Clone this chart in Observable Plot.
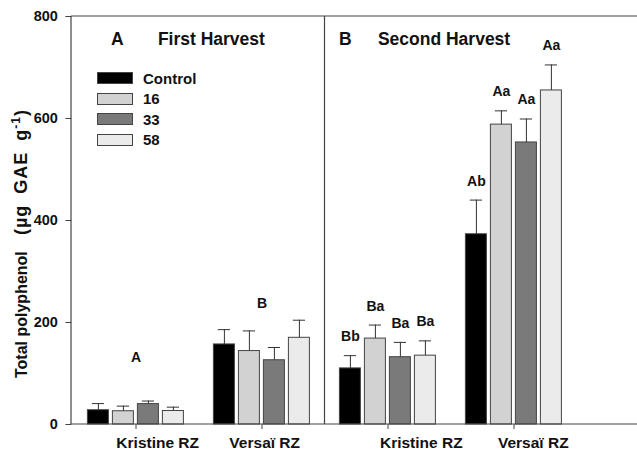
<!DOCTYPE html>
<html><head><meta charset="utf-8">
<script src="https://cdn.jsdelivr.net/npm/d3@7"></script>
<script src="https://cdn.jsdelivr.net/npm/@observablehq/plot@0.6"></script>
<style>
body{margin:0;background:#fff;font-family:"Liberation Sans",Arial,sans-serif;}
#wrap{position:relative;width:637px;height:451px;}
#wrap svg{display:block;}
.legend{position:absolute;left:97px;top:68px;font-weight:bold;font-size:15px;color:#111;}
.legend .row{display:flex;align-items:center;height:20.5px;}
.legend .sw{width:34px;height:10px;border:1px solid #444;margin-right:10px;box-sizing:content-box;}
</style></head><body><div id="wrap"></div>
<script>
// ---- data ----
const treatments = ["Control", "16", "33", "58"];
const colors = ["#000000", "#d2d2d2", "#7a7a7a", "#ebebeb"];
const harvests = ["First Harvest", "Second Harvest"];
const panelLetters = ["A", "B"];
const cultivars = ["Kristine RZ", "Versaï RZ"];
const yTicks = [0, 200, 400, 600, 800];

const firstKristine = [28, 26, 40, 26.5];
const firstKristineSE = [13, 10, 6, 7.5];
const firstVersai = [157, 144, 126, 170];
const firstVersaiSE = [29, 39.5, 25, 34.5];
const secondKristine = [110, 168.5, 132, 135];
const secondKristineSE = [25, 26.5, 29, 29];
const secondVersai = [373, 588, 553, 655];
const secondVersaiSE = [67, 27, 46, 50];

const firstGroupLetters = ["A", "B"];
const firstGroupLetterY = [131, 237];
const secondKristineLetters = ["Bb", "Ba", "Ba", "Ba"];
const secondVersaiLetters = ["Ab", "Aa", "Aa", "Aa"];

// ---- build tables ----
const groups = [];
harvests.forEach(h => cultivars.forEach(c => groups.push(h + "|" + c)));
const series = [
  [firstKristine, firstKristineSE, null],
  [firstVersai, firstVersaiSE, null],
  [secondKristine, secondKristineSE, secondKristineLetters],
  [secondVersai, secondVersaiSE, secondVersaiLetters]
];
const rows = [];
series.forEach(([m, se, lab], gi) => {
  treatments.forEach((t, i) => {
    rows.push({group: groups[gi], treatment: t, mean: m[i], top: m[i] + se[i], letter: lab ? lab[i] : null});
  });
});
const letterRows = rows.filter(d => d.letter);
const groupLetterRows = firstGroupLetters.map((l, i) => ({group: groups[i], letter: l, y: firstGroupLetterY[i]}));

const font = "'Liberation Sans', Arial, sans-serif";
const W = 637, H = 451, ML = 84.6, MR = 73.6, MT = 16, MB = 27;
// horizontal shift of each cultivar label from its tick (layout, as in the reference)
const labelShift = [21.7, 2.7, 33.3, 19.3];

const catLabelMarks = groups.map((gk, i) =>
  Plot.text([{group: gk, label: gk.split("|")[1]}], {
    fx: "group", text: "label", frameAnchor: "bottom", dy: 19, dx: labelShift[i],
    lineAnchor: "middle", fontSize: 15.5, fill: "#111"
  })
);

const plot = Plot.plot({
  width: W, height: H,
  marginLeft: ML, marginRight: MR, marginTop: MT, marginBottom: MB,
  style: {fontFamily: font, fontWeight: "bold", color: "#111", background: "transparent", overflow: "visible"},
  fx: {domain: groups, paddingInner: 0.2, paddingOuter: 0, label: null, axis: null},
  x: {domain: treatments, paddingInner: 0.17, paddingOuter: 0.085, axis: null},
  y: {domain: [0, 800], axis: null},
  color: {domain: treatments, range: colors},
  marks: [
    Plot.axisY({ticks: yTicks, tickSize: 6, tickPadding: 8, fontSize: 14.5, label: null, dx: -13.6, stroke: "#444"}),
    Plot.axisFx({anchor: "bottom", tickSize: 5, label: null, stroke: "#444", tickFormat: () => ""}),
    ...catLabelMarks,
    Plot.barY(rows, {fx: "group", x: "treatment", y: "mean", fill: "treatment", stroke: "#444", strokeWidth: 1}),
    Plot.ruleX(rows, {fx: "group", x: "treatment", y1: "mean", y2: "top", stroke: "#333", strokeWidth: 1}),
    Plot.tickY(rows, {fx: "group", x: "treatment", y: "top", stroke: "#333", strokeWidth: 1, insetLeft: 4.4, insetRight: 4.4}),
    Plot.text(letterRows, {fx: "group", x: "treatment", y: "top", text: "letter", dy: -19, lineAnchor: "middle", fontSize: 14, fill: "#111"}),
    Plot.text(groupLetterRows, {fx: "group", y: "y", text: "letter", lineAnchor: "middle", fontSize: 14, fill: "#111"}),
    Plot.text([{group: groups[0], t: panelLetters[0]}], {fx: "group", text: "t", frameAnchor: "top-left", dx: 25.4, dy: 23, lineAnchor: "middle", textAnchor: "start", fontSize: 17.5, fill: "#111"}),
    Plot.text([{group: groups[0], t: harvests[0]}], {fx: "group", text: "t", frameAnchor: "top-left", dx: 72.4, dy: 23, lineAnchor: "middle", textAnchor: "start", fontSize: 17.5, fill: "#111"}),
    Plot.text([{group: groups[2], t: panelLetters[1]}], {fx: "group", text: "t", frameAnchor: "top-left", dx: 1.4, dy: 23, lineAnchor: "middle", textAnchor: "start", fontSize: 17.5, fill: "#111"}),
    Plot.text([{group: groups[2], t: harvests[1]}], {fx: "group", text: "t", frameAnchor: "top-left", dx: 40.4, dy: 23, lineAnchor: "middle", textAnchor: "start", fontSize: 17.5, fill: "#111"})
  ]
});

// ---- frame lines from scales ----
const svg = d3.select(plot);
const ys = plot.scale("y"), fxs = plot.scale("fx");
const y0 = ys.apply(0), y1 = ys.apply(800);
const left = ML - 13.6;
const divider = (fxs.apply(groups[1]) + fxs.bandwidth + fxs.apply(groups[2])) / 2;
const g = svg.append("g").attr("stroke", "#444").attr("stroke-width", 1.2).attr("fill", "none");
g.append("line").attr("x1", left).attr("x2", W).attr("y1", y1).attr("y2", y1);
g.append("line").attr("x1", left).attr("x2", W).attr("y1", y0).attr("y2", y0);
g.append("line").attr("x1", left).attr("x2", left).attr("y1", y1).attr("y2", y0);
g.append("line").attr("x1", divider).attr("x2", divider).attr("y1", y1).attr("y2", y0);

// ---- y axis title ----
svg.append("text")
  .attr("transform", `translate(27,378) rotate(-90)`)
  .attr("text-anchor", "start").attr("font-size", 16).attr("font-weight", "bold")
  .attr("fill", "#111").attr("font-family", font)
  .text("Total polyphenol");
const t2 = svg.append("text")
  .attr("transform", `translate(27,235) rotate(-90)`)
  .attr("text-anchor", "start").attr("font-size", 18).attr("font-weight", "bold")
  .attr("fill", "#111").attr("font-family", font)
  .style("letter-spacing", "1px").style("word-spacing", "5px");
t2.append("tspan").text("(µg GAE g");
t2.append("tspan").attr("dy", -7).attr("font-size", 12).text("-1");
t2.append("tspan").attr("dy", 7).text(")");

const wrap = document.getElementById("wrap");
wrap.appendChild(plot);

// ---- legend (inside panel A) ----
const leg = document.createElement("div");
leg.className = "legend";
treatments.forEach((tr, i) => {
  const r = document.createElement("div"); r.className = "row";
  const s = document.createElement("div"); s.className = "sw"; s.style.background = colors[i];
  const l = document.createElement("span"); l.textContent = tr;
  r.appendChild(s); r.appendChild(l); leg.appendChild(r);
});
wrap.appendChild(leg);
</script></body></html>
